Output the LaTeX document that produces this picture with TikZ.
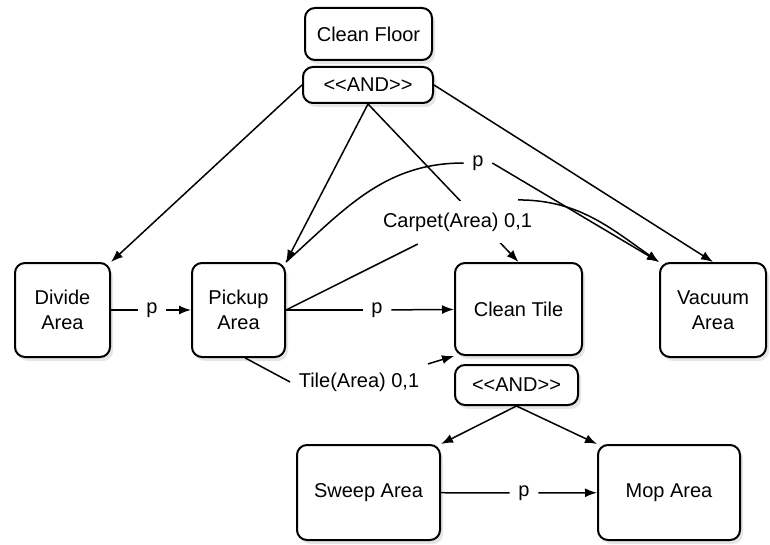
\documentclass[tikz,border=0pt]{standalone}
\usepackage{fontspec}
\setmainfont{Liberation Sans}
\usetikzlibrary{arrows.meta,shadows}

% the kern keeps << and >> from turning into guillemets
\newcommand{\andtag}{<\kern0pt<AND>\kern0pt>}

\begin{document}
\begin{tikzpicture}[x=0.5pt, y=-0.5pt,
        goalbox/.style={draw, line width=1pt, rounded corners=5pt, fill=white,
            align=center, inner sep=0pt, font=\fontsize{10}{12.5}\selectfont,
            drop shadow={shadow xshift=1.5pt, shadow yshift=-2pt, opacity=0.2}},
        lbl/.style={fill=white, inner sep=4pt, font=\fontsize{10}{12.5}\selectfont},
        arr/.style={-{Latex[length=6pt,width=4.5pt]}},
        every path/.style={line width=0.75pt}]
        \useasboundingbox (0,0) rectangle (770,545);

        % goals
        \node[goalbox, minimum width=63.5pt, minimum height=26pt] (floor) at (368.5,34) {Clean Floor};
        \node[goalbox, minimum width=65pt, minimum height=18pt] (and1) at (368,85) {\andtag};
        \node[goalbox, minimum width=47.5pt, minimum height=47pt] (divide) at (62.5,310) {Divide\\Area};
        \node[goalbox, minimum width=46.5pt, minimum height=47pt] (pickup) at (238.5,310) {Pickup\\Area};
        \node[goalbox, minimum width=63.5pt, minimum height=46pt] (tile) at (518.5,309) {Clean Tile};
        \node[goalbox, minimum width=53pt, minimum height=47pt] (vacuum) at (713,310) {Vacuum\\Area};
        \node[goalbox, minimum width=61.5pt, minimum height=20pt] (and2) at (516.5,385) {\andtag};
        \node[goalbox, minimum width=71.5pt, minimum height=47.5pt] (sweep) at (368.5,492.5) {Sweep Area};
        \node[goalbox, minimum width=71pt, minimum height=47.5pt] (mop) at (669,492.5) {Mop Area};

        % this one runs behind the carpet label
        \draw[arr] (and1.south) -- (tile.north);

        % edge labels
        \node[lbl] (p1) at (152,310) {p};
        \node[lbl] (p2) at (377,310) {p};
        \node[lbl] (p3) at (524,493) {p};
        \node[lbl] (p4) at (478,163) {p};
        \node[lbl, inner ysep=6pt] (carpet) at (457.5,222) {Carpet(Area) 0,1};
        \node[lbl] (tilecond) at (359,382) {Tile(Area) 0,1};

        % decomposition
        \draw[arr] (and1.west) -- (divide.north east);
        \draw[arr] (and1.south) -- (pickup.north east);
        \draw[arr] (and1.east) -- (vacuum.north);
        \draw[arr] (and2.south) -- (sweep.north east);
        \draw[arr] (and2.south) -- (mop.north west);

        % precedence
        \draw (divide) -- (p1);
        \draw[arr] (p1) -- (pickup);
        \draw (pickup) -- (p2);
        \draw[arr] (p2) -- (tile);
        \draw (sweep) -- (p3);
        \draw[arr] (p3) -- (mop);
        \draw (pickup.north east) to[out=42,in=180] (p4.west);
        \draw[arr] (p4.east) -- (vacuum.north west);

        % conditions
        \draw (pickup.east) -- (carpet.209);
        \draw[arr] (carpet.20) to[out=0,in=145] (vacuum.north west);
        \draw (pickup.-82) -- (tilecond.west);
        \draw[arr] (tilecond.north east) -- (tile.south west);
    \end{tikzpicture}
\end{document}
